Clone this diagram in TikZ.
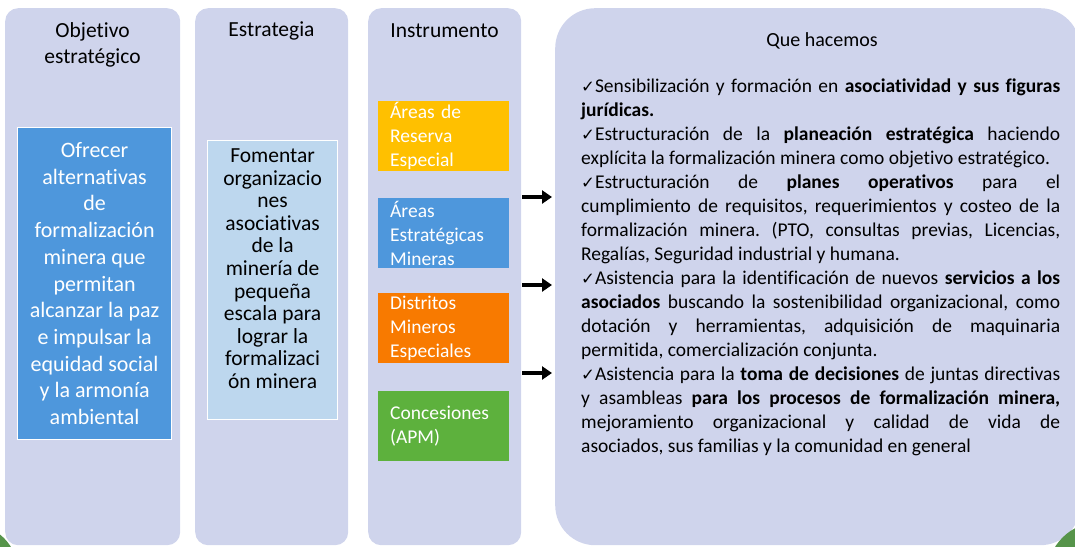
\documentclass[tikz,border=0pt]{standalone}
\usepackage{fontspec}
\setmainfont{Carlito}[Ligatures={NoCommon,NoContextual}]
\newfontfamily\dejavu{DejaVu Sans}
\usetikzlibrary{arrows.meta}
\definecolor{lav}{RGB}{207,212,236}
\definecolor{bblue}{RGB}{78,151,220}
\definecolor{lblue}{RGB}{189,215,238}
\definecolor{ayellow}{RGB}{255,192,0}
\definecolor{aorange}{RGB}{248,122,0}
\definecolor{agreen}{RGB}{93,177,61}
\definecolor{dgreen}{RGB}{86,148,74}
\newcommand{\chk}{{\dejavu\fontsize{16.5}{24}\selectfont ✓}}
\newcommand{\js}[1]{\makebox[479pt][s]{#1}}
\newcommand{\jl}[1]{\makebox[479pt][l]{#1}}
\frenchspacing
\begin{document}
\begin{tikzpicture}[x=1pt,y=-1pt,
  colbox/.style={fill=lav, draw=none, rounded corners=13pt, anchor=north west, inner sep=0pt, minimum height=537pt},
  title/.style={align=center, inner sep=0pt, font=\fontsize{21.5}{26}\selectfont},
  ibox/.style={anchor=north west, minimum width=131pt, minimum height=70pt, text width=107pt, inner xsep=12pt, inner ysep=0pt, align=left, text=white, font=\fontsize{19.5}{24}\selectfont},
  arr/.style={line width=3.2pt, -{Triangle[length=10pt,width=13pt]}}
]
\useasboundingbox (0,0) rectangle (1075,546);
\clip (0,0) rectangle (1075,546);
\fill[dgreen] (-30,572) circle (48pt);
% columns
\node[colbox, minimum width=175pt] (c1) at (5,8) {};
\node[colbox, minimum width=153pt] (c2) at (195,8) {};
\node[colbox, minimum width=153pt] (c3) at (368,8) {};
\node[colbox, rounded corners=40pt, minimum width=525pt] (c4) at (555,8) {};
\fill[dgreen] (1100,575) circle (53pt);
% titles
\node[title] (t1) at (92.5,45) {Objetivo\\estratégico};
\node[title] (t2) at (271.5,31) {Estrategia};
\node[title] (t3) at (444.5,31) {Instrumento};
\node[title, font=\fontsize{20}{24}\selectfont] (t4) at (822,41) {Que hacemos};
% objetivo
\node[anchor=north west, fill=bblue, draw=white, line width=1.2pt, minimum width=154pt, minimum height=312pt, inner sep=0pt, align=center, text=white, font=\fontsize{22}{26.7}\selectfont] (o1) at (17,127)
  {Ofrecer\\alternativas\\de\\formalización\\minera que\\permitan\\alcanzar la paz\\e impulsar la\\equidad social\\y la armonía\\ambiental};
% estrategia
\node[anchor=north west, fill=lblue, draw=white, line width=1.2pt, minimum width=130pt, minimum height=279pt, inner sep=0pt] (e1) at (207,140) {};
\node[align=center, inner sep=0pt, font=\fontsize{21.5}{22.6}\selectfont] (e1t) at ([yshift=11.5pt]e1.center)
  {Fomentar\\organizacio\\nes\\asociativas\\de la\\minería de\\pequeña\\escala para\\lograr la\\formalizaci\\ón minera};
% instrumentos
\node[ibox, fill=ayellow] (i1) at (378,101) {Áreas de\\Reserva\\Especial};
\node[ibox, fill=bblue] (i2) at (378,198) {Áreas\\Estratégicas\\Mineras};
\node[ibox, fill=aorange] (i3) at (378,293) {Distritos\\Mineros\\Especiales};
\node[ibox, fill=agreen] (i4) at (378,391) {Concesiones\\(APM)};
% arrows
\coordinate (a1s) at (522,197); \coordinate (a1e) at (552,197);
\coordinate (a2s) at (522,285); \coordinate (a2e) at (552,285);
\coordinate (a3s) at (522,373); \coordinate (a3e) at (552,373);
\draw[arr] (a1s) -- (a1e);
\draw[arr] (a2s) -- (a2e);
\draw[arr] (a3s) -- (a3e);
% body
\node[anchor=north west, inner sep=0pt, align=left, font=\fontsize{19.5}{24}\selectfont] (body) at (581,79) {%
\js{\chk Sensibilización y formación en \textbf{asociatividad y sus figuras}}\\
\jl{\textbf{jurídicas.}}\\
\js{\chk Estructuración de la \textbf{planeación estratégica} haciendo}\\
\jl{explícita la formalización minera como objetivo estratégico.}\\
\js{\chk Estructuración de \textbf{planes operativos} para el}\\
\js{cumplimiento de requisitos, requerimientos y costeo de la}\\
\js{formalización minera. (PTO, consultas previas, Licencias,}\\
\jl{Regalías, Seguridad industrial y humana.}\\
\js{\chk Asistencia para la identificación de nuevos \textbf{servicios a los}}\\
\js{\textbf{asociados} buscando la sostenibilidad organizacional, como}\\
\js{dotación y herramientas, adquisición de maquinaria}\\
\jl{permitida, comercialización conjunta.}\\
\js{\chk Asistencia para la \textbf{toma de decisiones} de juntas directivas}\\
\js{y asambleas \textbf{para los procesos de formalización minera,}}\\
\js{mejoramiento organizacional y calidad de vida de}\\
\jl{asociados, sus familias y la comunidad en general}};
\end{tikzpicture}
\end{document}
